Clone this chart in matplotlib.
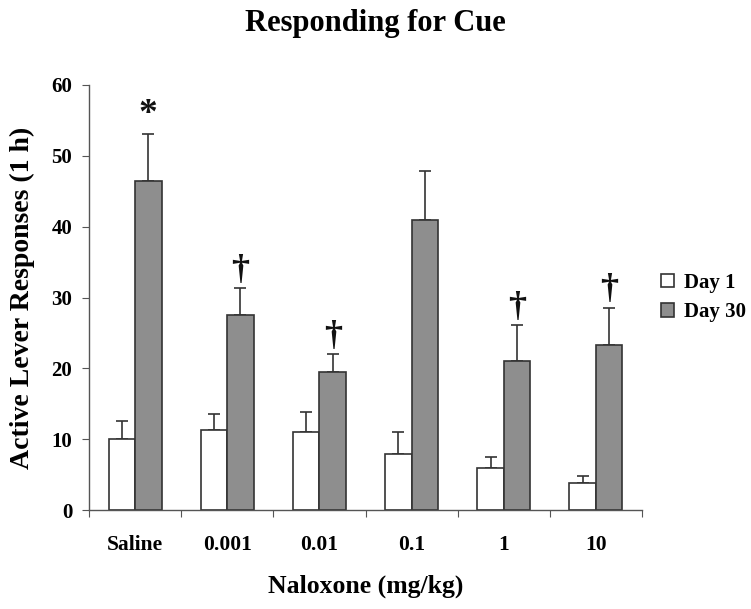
import matplotlib
matplotlib.use("Agg")
import matplotlib.pyplot as plt
import numpy as np

categories = ["Saline", "0.001", "0.01", "0.1", "1", "10"]
day1 = [10.0, 11.3, 11.05, 7.85, 5.9, 3.8]
day1_err = [2.6, 2.2, 2.85, 3.2, 1.65, 0.95]
day30 = [46.5, 27.6, 19.5, 40.9, 21.1, 23.25]
day30_err = [6.6, 3.7, 2.5, 7.0, 5.0, 5.3]
marks = ["*", "\u2020", "\u2020", "", "\u2020", "\u2020"]
yticks = [0, 10, 20, 30, 40, 50, 60]

plt.rcParams['font.family'] = ['Liberation Serif', 'DejaVu Serif']
plt.rcParams['font.weight'] = 'bold'

fig = plt.figure(figsize=(7.51, 6.09), dpi=100)
ax = fig.add_axes([89/751, 1-510/609, (642-89)/751, (510-85)/609])

x = np.arange(len(categories)) + 0.5
w = 0.287
edge = '#333333'
ax.bar(x - w/2, day1, w, color='white', edgecolor=edge, linewidth=1.2, label='Day 1', zorder=2)
ax.bar(x + w/2, day30, w, color='#8e8e8e', edgecolor=edge, linewidth=1.2, label='Day 30', zorder=2)
ax.errorbar(x - w/2, day1, yerr=[np.zeros(len(day1)), day1_err], fmt='none',
            ecolor=edge, elinewidth=1.2, capsize=4, capthick=1.2, zorder=1)
ax.errorbar(x + w/2, day30, yerr=[np.zeros(len(day30)), day30_err], fmt='none',
            ecolor=edge, elinewidth=1.2, capsize=4, capthick=1.2, zorder=1)

for xi, v, e, m in zip(x + w/2, day30, day30_err, marks):
    if m == "*":
        ax.text(xi, v + e + 0.2, m, ha='center', va='bottom', fontsize=27, fontweight='bold', color='#111111')
    elif m:
        ax.text(xi, v + e + 0.2, m, ha='center', va='bottom', fontsize=26, fontweight='bold', color='#111111')

ax.set_xlim(0, 6)
ax.set_ylim(0, 60)
ax.set_yticks(yticks)
ax.set_yticklabels([str(t) for t in yticks], fontsize=15, fontweight='bold')
ax.set_xticks(np.arange(0, 7))
ax.set_xticklabels([])
ax.set_xticks(x, minor=True)
ax.set_xticklabels(categories, minor=True, fontsize=15.5, fontweight='bold')
ax.tick_params(axis='x', which='minor', length=0, pad=18)
ax.tick_params(axis='x', which='major', length=5, color='#555555', direction='out')
ax.tick_params(axis='y', length=5, color='#555555', pad=7)

for s in ['top', 'right']:
    ax.spines[s].set_visible(False)
for s in ['left', 'bottom']:
    ax.spines[s].set_color('#555555')
    ax.spines[s].set_linewidth(1.0)

ax.set_ylabel('Active Lever Responses (1 h)', fontsize=20, fontweight='bold', labelpad=12)
ax.set_xlabel('Naloxone (mg/kg)', fontsize=18.5, fontweight='bold', labelpad=14)
fig.text(0.5, 1-23/609, 'Responding for Cue', ha='center', va='center', fontsize=22, fontweight='bold')

leg = ax.legend(loc='center left', bbox_to_anchor=(1.0, 0.5), frameon=False,
                prop={'size': 15, 'weight': 'bold'}, handlelength=0.65, handleheight=0.65,
                handletextpad=0.45, labelspacing=0.45)

fig.savefig('out.png', dpi=100)
